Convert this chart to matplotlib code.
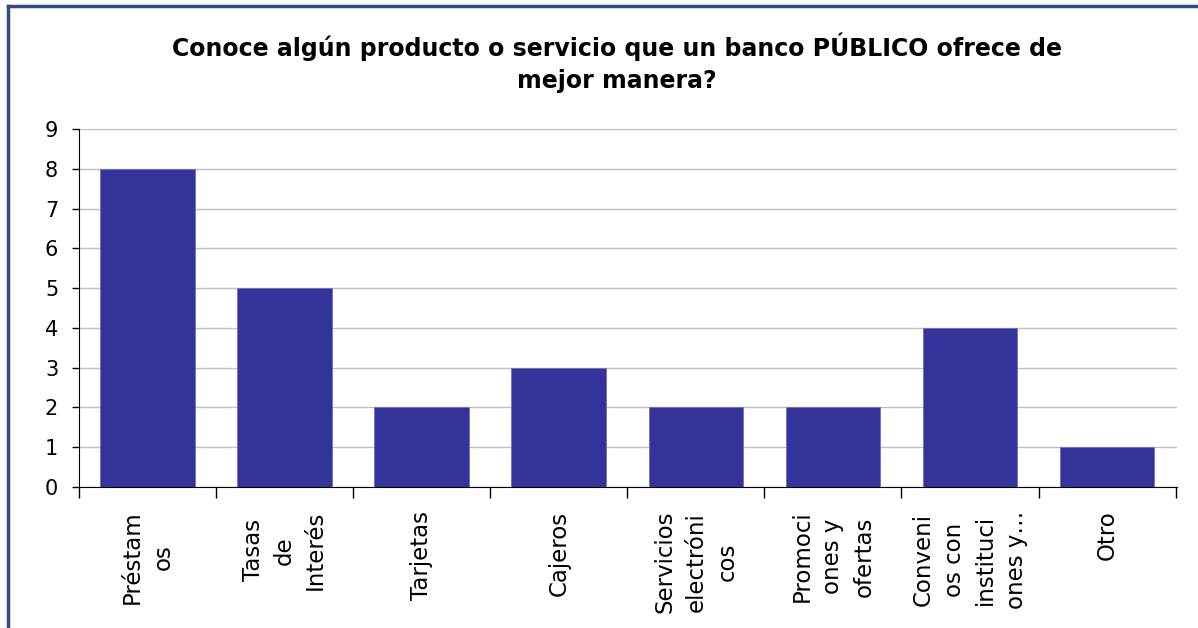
import matplotlib
matplotlib.use("Agg")
import matplotlib.pyplot as plt
from matplotlib.lines import Line2D
import numpy as np

categories = ["Préstam\nos", "Tasas\nde\nInterés", "Tarjetas", "Cajeros",
              "Servicios\nelectróni\ncos", "Promoci\nones y\nofertas",
              "Conveni\nos con\ninstituci\nones y…", "Otro"]
values = [8, 5, 2, 3, 2, 2, 4, 1]
yticks = list(range(0, 10))
title = "Conoce algún producto o servicio que un banco PÚBLICO ofrece de\nmejor manera?"

plt.rcParams['font.family'] = ['DejaVu Sans']
fig = plt.figure(figsize=(11.98, 6.28), dpi=100)
ax = fig.add_axes([79/1198, 1-487/628, (1177-79)/1198, (487-129)/628])

x = np.arange(len(categories))
ax.bar(x, values, width=0.69, color="#333399", edgecolor="#6f6fc0", linewidth=0.6, zorder=3)

ax.set_xlim(-0.5, len(categories) - 0.49)
ax.set_ylim(0, 9)
ax.set_yticks(yticks)
ax.yaxis.grid(True, color="#c0c0c0", linewidth=1.0, zorder=0)
ax.set_axisbelow(True)

ax.set_xticks(x)
ax.set_xticklabels(categories, rotation=90, fontsize=16.5, ha="center", va="top",
                   multialignment="center", linespacing=1.45)
ax.tick_params(axis="x", which="major", length=0, pad=17)
ax.set_xticks(np.arange(-0.5, len(categories)), minor=True)
ax.tick_params(axis="x", which="minor", length=8, width=1, color="black")
ax.tick_params(axis="y", labelsize=15, length=5, width=1, pad=10)

for s in ["top", "right"]:
    ax.spines[s].set_visible(False)
ax.spines["left"].set_color("black")
ax.spines["bottom"].set_color("black")

fig.text(617/1198, 1-63/628, title, ha="center", va="center", fontsize=17,
         fontweight="bold", linespacing=1.4)

# Frame lines (top and left)
fig.add_artist(Line2D([8/1198, 1], [1-6/628, 1-6/628], color="#2f4f7f", linewidth=2.5,
                      transform=fig.transFigure))
fig.add_artist(Line2D([8/1198, 8/1198], [0, 1-6/628], color="#2f4f7f", linewidth=2.5,
                      transform=fig.transFigure))

fig.savefig("out.png", dpi=100)
